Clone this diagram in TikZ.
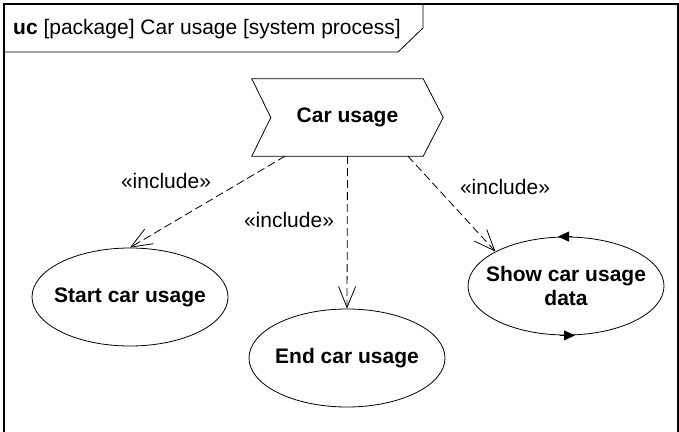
\documentclass[tikz,border=0pt]{standalone}
\usepackage{fontspec}
\setmainfont{Liberation Sans}
\usetikzlibrary{arrows.meta,calc,shapes.geometric}

\begin{document}
\begin{tikzpicture}[x=1pt,y=-1pt,
        font=\fontsize{21}{24}\selectfont,
        usecase/.style={draw,ellipse,minimum width=196pt,minimum height=98pt,
            inner xsep=-12pt,inner ysep=0pt,align=center,line width=0.8pt,
            font=\fontsize{21}{24}\selectfont\bfseries},
        include/.style={line width=0.8pt,dash pattern=on 8pt off 4pt,
            -{Straight Barb[length=21pt,width=17pt,line width=0.8pt]}},
        loop/.style={line width=0.8pt,-{Triangle[length=11pt,width=10pt]}}]
    \useasboundingbox (0,0) rectangle (679,431);

    % frame
    \draw[line width=1.2pt] (4,440) -- (4,4) -- (678,4) -- (678,440);
    \draw[line width=0.8pt] (4,52) -- (398,52) -- (423,28) -- (423,4);
    \node[anchor=west,inner sep=0pt] (title) at (13,29)
        {\textbf{uc} [package] Car usage [system process]};

    % process and use cases
    \node[minimum width=191pt,minimum height=77pt,inner sep=0pt,
        font=\fontsize{21}{24}\selectfont\bfseries] (usage) at (347.5,117.5) {Car usage};
    \draw[line width=0.8pt] (usage.north west) -- ($(usage.north east)+(-20,0)$)
        -- (usage.east) -- ($(usage.south east)+(-20,0)$)
        -- (usage.south west) -- ($(usage.west)+(19,0)$) -- cycle;

    \node[usecase] (start) at (130,297) {Start car usage};
    \node[usecase] (end) at (347,358) {End car usage};
    \node[usecase] (show) at (566,286) {Show car usage\\data};

    % includes
    \draw[include] ($(usage.south)+(-62.5,0)$) -- (start.north);
    \draw[include] (usage.south) -- (end.north);
    \draw[include] ($(usage.south)+(60.5,0)$) -- (show.154);
    \node (inc1) at (166,181) {«include»};
    \node (inc2) at (289,220) {«include»};
    \node (inc3) at (505,187) {«include»};

    % loop marks
    \draw[loop] ($(show.north)+(6,0)$) -- ($(show.north)+(-8,0)$);
    \draw[loop] ($(show.south)+(-6,0)$) -- ($(show.south)+(9,0)$);
\end{tikzpicture}
\end{document}
